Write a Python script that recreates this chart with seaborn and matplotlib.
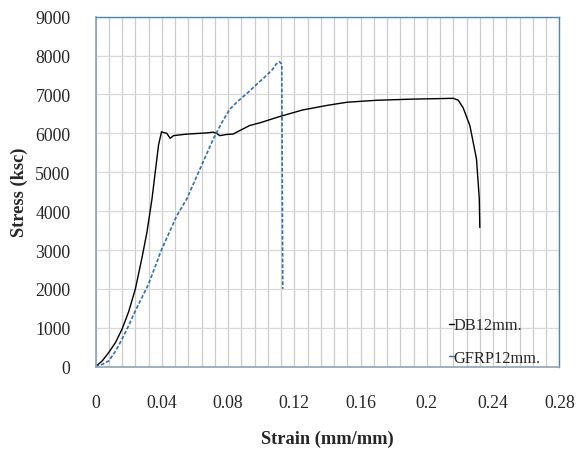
import numpy as np
import pandas as pd
import matplotlib
matplotlib.use("Agg")
import matplotlib.pyplot as plt
import seaborn as sns
from matplotlib.ticker import MultipleLocator

# DB12mm (steel) stress-strain
db_strain = [0.0, 0.004, 0.008, 0.012, 0.016, 0.020, 0.024, 0.028, 0.031, 0.034, 0.036, 0.038,
             0.0398, 0.041, 0.043, 0.045, 0.047, 0.051, 0.055, 0.059, 0.063, 0.067, 0.071, 0.073,
             0.075, 0.079, 0.083, 0.087, 0.093, 0.100, 0.111, 0.125, 0.140, 0.152, 0.170, 0.192,
             0.205, 0.216, 0.219, 0.222, 0.226, 0.230, 0.2317, 0.232]
db_stress = [0, 150, 370, 620, 970, 1420, 2000, 2800, 3460, 4300, 5000, 5700,
             6040, 6020, 6000, 5870, 5940, 5960, 5980, 5990, 6000, 6010, 6030, 6000,
             5940, 5970, 5980, 6070, 6200, 6280, 6430, 6600, 6720, 6800, 6850, 6880,
             6890, 6900, 6850, 6650, 6200, 5340, 4310, 3580]

# GFRP12mm stress-strain
gfrp_strain = [0.0, 0.004, 0.008, 0.012, 0.016, 0.020, 0.024, 0.028, 0.032, 0.036, 0.040,
               0.045, 0.049, 0.055, 0.063, 0.071, 0.076, 0.081, 0.086, 0.091, 0.097, 0.103,
               0.107, 0.109, 0.111, 0.1124, 0.1126, 0.1128, 0.113]
gfrp_stress = [0, 60, 150, 400, 710, 1060, 1440, 1780, 2130, 2580, 3030,
               3500, 3880, 4310, 5080, 5850, 6260, 6620, 6830, 7010, 7250, 7480,
               7650, 7780, 7840, 7780, 6000, 4000, 2000]

x_ticks = [0, 0.04, 0.08, 0.12, 0.16, 0.2, 0.24, 0.28]
x_tick_labels = ["0", "0.04", "0.08", "0.12", "0.16", "0.2", "0.24", "0.28"]
y_ticks = [0, 1000, 2000, 3000, 4000, 5000, 6000, 7000, 8000, 9000]

df_db = pd.DataFrame({"strain": db_strain, "stress": db_stress})
df_gf = pd.DataFrame({"strain": gfrp_strain, "stress": gfrp_stress})

sns.set_style("white")
plt.rcParams["font.family"] = ["Liberation Serif", "DejaVu Serif"]

fig = plt.figure(figsize=(5.76, 4.52), dpi=100)
ax = fig.add_axes([0.166, 0.1865, 0.805, 0.7745])

ax.set_xlim(0, 0.28)
ax.set_ylim(0, 9000)
ax.xaxis.set_minor_locator(MultipleLocator(0.008))
ax.set_xticks(x_ticks)
ax.set_xticklabels(x_tick_labels)
ax.set_yticks(y_ticks)
ax.grid(True, which="both", axis="x", color="#cccccc", linewidth=0.9)
ax.grid(True, which="major", axis="y", color="#d9d9d9", linewidth=0.9)
ax.set_axisbelow(True)

sns.lineplot(data=df_db, x="strain", y="stress", sort=False, ax=ax, color="black",
             linewidth=1.0, label="DB12mm.")
sns.lineplot(data=df_gf, x="strain", y="stress", sort=False, ax=ax, color="#2e6fb0",
             linewidth=1.2, linestyle=(0, (2.2, 1.2)), label="GFRP12mm.")

for s in ["top", "right"]:
    ax.spines[s].set_color("#4f86ad")
    ax.spines[s].set_linewidth(1.0)
for s in ["left", "bottom"]:
    ax.spines[s].set_color("#8ea3b3")
    ax.spines[s].set_linewidth(1.2)

ax.tick_params(axis="both", which="both", length=0, labelsize=12.8)
ax.tick_params(axis="y", pad=18)
ax.tick_params(axis="x", pad=20)

ax.set_xlabel("Strain (mm/mm)", fontsize=13.2, fontweight="bold", labelpad=13)
ax.set_ylabel("Stress (ksc)", fontsize=13.2, fontweight="bold", labelpad=5)

leg = ax.legend(loc="lower right", bbox_to_anchor=(0.985, -0.03), frameon=False,
                fontsize=11.8, handlelength=0.3, handletextpad=0.0,
                labelspacing=1.0, borderaxespad=0.3)
for line in leg.get_lines():
    line.set_linestyle("-")
    line.set_linewidth(1.0)

fig.savefig("out.png", dpi=100)
